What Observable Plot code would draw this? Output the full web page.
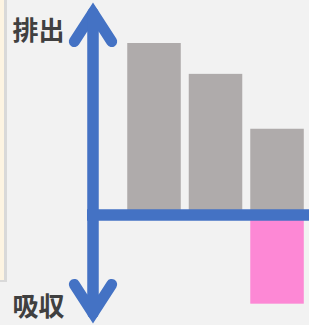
<!DOCTYPE html>
<html><head><meta charset="utf-8">
<script src="https://cdn.jsdelivr.net/npm/d3@7"></script>
<script src="https://cdn.jsdelivr.net/npm/@observablehq/plot@0.6"></script>
<style>
html,body{margin:0;padding:0;background:#f2f2f2;}
#wrap{position:relative;width:309px;height:325px;overflow:hidden;}
#panel{position:absolute;left:0;top:0;width:4px;height:280px;background:#fdf4e2;border-right:3px solid #d9d9d9;border-bottom:2px solid #d9d9d9;}
#chart{position:absolute;left:0;top:0;}
</style></head><body>
<div id="wrap"><div id="panel"></div><div id="chart"></div></div>
<script>
const categories = ["A", "B", "C"];
const emissions = [100, 82, 50];
const absorptions = [0, 0, -52];
const axisExtent = [-57.4, 118];
const labels = ["排出", "吸収"];

const table = categories.map((c, i) => ({category: c, i: i + 1, emission: emissions[i], absorption: absorptions[i]}));
const half = 0.435;
const blue = "#4472c4";

const chart = Plot.plot({
  width: 309,
  height: 325,
  marginLeft: 87,
  marginRight: 0,
  marginTop: 0,
  marginBottom: 0,
  style: {background: "transparent", overflow: "visible"},
  x: {type: "linear", domain: [-0.0894, 3.520], axis: null},
  y: {domain: [-64.43, 125.07], axis: null},
  marks: [
    Plot.rectY(table, {x1: d => d.i - half, x2: d => d.i + half, y: "emission", fill: "#afabab"}),
    Plot.rectY(table.filter(d => d.absorption !== 0), {x1: d => d.i - half, x2: d => d.i + half, y: "absorption", fill: "#fd88d5"}),
    Plot.ruleY([0], {stroke: blue, strokeWidth: 11.5}),
    Plot.arrow([{a: axisExtent[0], b: axisExtent[1]}, {a: axisExtent[1], b: axisExtent[0]}], {
      x1: () => 0, x2: () => 0, y1: "a", y2: "b",
      stroke: blue, strokeWidth: 11, headLength: 4.7, headAngle: 65.6,
      strokeLinecap: "round", strokeLinejoin: "miter", strokeMiterlimit: 4
    }),
    Plot.text([labels[0]], {text: d => d, frameAnchor: "top-left", dx: -75, dy: 31, textAnchor: "start", lineAnchor: "middle", fontSize: 26, fontWeight: "bold", fill: "#404040", fontFamily: "Noto Sans CJK JP"}),
    Plot.text([labels[1]], {text: d => d, frameAnchor: "bottom-left", dx: -75, dy: -18, textAnchor: "start", lineAnchor: "middle", fontSize: 26, fontWeight: "bold", fill: "#404040", fontFamily: "Noto Sans CJK JP"})
  ]
});
document.getElementById("chart").appendChild(chart);
</script>
</body></html>
